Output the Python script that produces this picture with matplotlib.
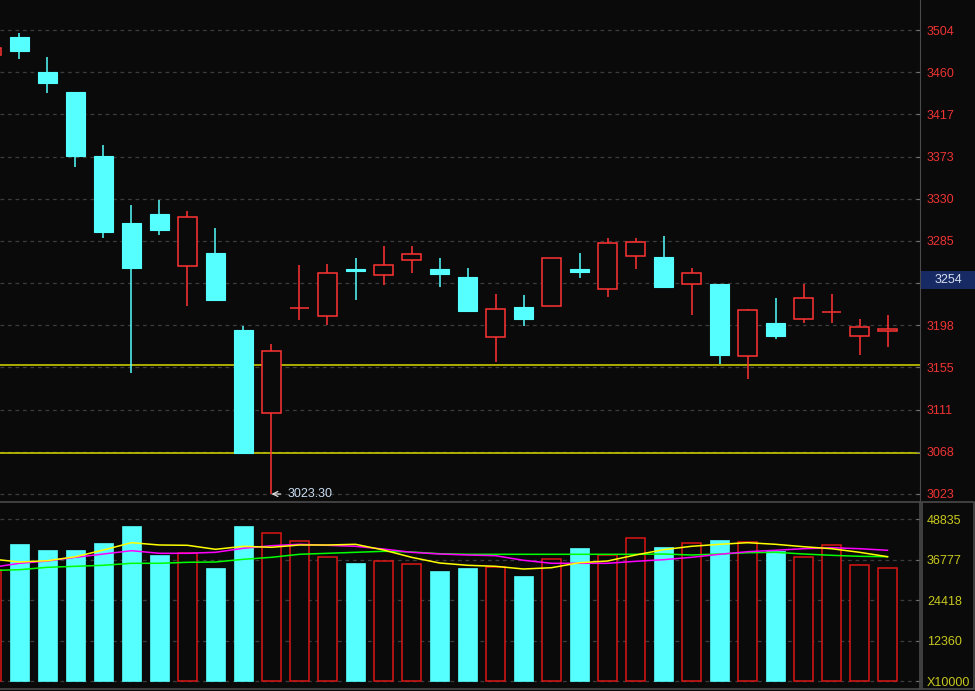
import numpy as np
import matplotlib.pyplot as plt
from matplotlib.patches import Rectangle

plt.rcParams['font.family'] = ['Liberation Sans', 'DejaVu Sans']

# candles, index -1 is the one cut off at the left edge
idx = np.arange(-1, 32)
opens = [3478.1, 3496.8, 3460.5, 3439.8, 3373.5, 3304.1, 3313.4, 3259.8, 3273.0, 3193.2,
         3107.5, 3215.7, 3207.4, 3256.4, 3249.9, 3265.4, 3256.4, 3248.1, 3185.6, 3217.0,
         3217.8, 3256.4, 3235.4, 3269.6, 3268.5, 3240.6, 3240.9, 3166.0, 3200.1, 3204.3,
         3211.5, 3186.7, 3192.5]
closes = [3485.4, 3482.3, 3449.1, 3373.5, 3294.7, 3257.7, 3296.8, 3310.3, 3224.3, 3065.5,
          3171.5, 3215.7, 3251.9, 3254.3, 3260.2, 3271.6, 3251.5, 3213.2, 3214.6, 3204.9,
          3267.5, 3253.6, 3283.0, 3284.1, 3238.1, 3251.9, 3167.6, 3213.6, 3187.3, 3226.0,
          3211.5, 3196.0, 3194.2]
highs = [3485.4, 3500.9, 3476.0, 3440.3, 3384.9, 3322.7, 3327.9, 3316.5, 3298.9, 3197.3,
         3178.7, 3260.5, 3261.6, 3267.8, 3280.2, 3280.2, 3267.8, 3257.4, 3230.5, 3229.5,
         3267.5, 3273.0, 3288.5, 3288.5, 3290.6, 3257.4, 3240.9, 3214.7, 3226.0, 3240.9,
         3230.5, 3204.6, 3208.7]
lows = [3478.1, 3474.0, 3438.7, 3362.1, 3288.5, 3149.0, 3291.6, 3218.4, 3224.3, 3065.5,
        3023.3, 3203.9, 3198.4, 3224.6, 3240.1, 3252.6, 3238.1, 3212.2, 3160.4, 3197.7,
        3217.8, 3247.4, 3227.7, 3256.7, 3237.0, 3209.1, 3157.7, 3142.4, 3184.2, 3200.8,
        3200.8, 3167.6, 3175.9]

volumes = [33557, 41396, 39587, 39587, 41697, 46823, 38079, 38592, 34160, 46823,
           44622, 42210, 37386, 35667, 36180, 35276, 33255, 34160, 34552, 31748,
           36783, 40190, 37989, 43115, 40491, 41607, 42602, 41909, 39376, 37386,
           41094, 34974, 34070]
ma_yellow = [36873, 35969, 36361, 37567, 39587, 41788, 41094, 41004, 39798, 40703,
             40401, 41094, 41094, 41305, 39587, 37386, 35667, 34974, 34673, 33858,
             34250, 35758, 36270, 38079, 39677, 40703, 41306, 41788, 41306, 40582,
             39979, 38894, 37567]
ma_magenta = [34311, 35577, 36270, 37386, 38381, 39376, 38592, 38592, 38894, 40100,
              40883, 41306, 41004, 40703, 39888, 38894, 38381, 38079, 37868, 36482,
              35577, 35577, 35577, 36180, 36662, 37386, 38291, 39074, 39497, 39979,
              40280, 39979, 39497]
ma_green = [33406, 33647, 34371, 34673, 34974, 35577, 35577, 35879, 35969, 36783,
            37386, 38291, 38592, 38894, 39195, 38984, 38471, 38291, 38291, 38291,
            38291, 38291, 38291, 38291, 38381, 38079, 38381, 38773, 38894, 38381,
            37989, 37688, 37567]

price_low, price_high = 3023.3, 3504.0
price_labels = ['3023', '3068', '3111', '3155', '3198', '', '3285', '3330',
                '3373', '3417', '3460', '3504']
support_lines = [3156.9, 3065.8]
cursor_price, cursor_label = 3245.0, '3254'
vol_top = 48835
vol_labels = ['X10000', '12360', '24418', '36777', '48835']

bg = '#0a0a0a'
cyan = '#55ffff'
red = '#ff3333'
vred = '#dd1515'
grid_c = '#3c3c3c'
frame_c = '#4a4a4a'

fig = plt.figure(figsize=(9.75, 6.91), dpi=100, facecolor=bg)
ax = fig.add_axes([0, 189/691, 920/975, 502/691], facecolor=bg)
axv = fig.add_axes([0, 2/691, 920/975, 187/691], facecolor=bg)

o = np.array(opens); c = np.array(closes)
h = np.array(highs); l = np.array(lows)
up = c >= o
w = 0.68

# price grid
ticks = np.linspace(price_low, price_high, 12)
for t in ticks:
    ax.axhline(t, color=grid_c, lw=0.9, ls=(0, (3, 3)), zorder=0)
for s in support_lines:
    ax.axhline(s, color='#d8d800', lw=1.1, zorder=1)

# wicks
ax.vlines(idx[up], l[up], h[up], color=red, lw=1.1, zorder=2)
ax.vlines(idx[~up], l[~up], h[~up], color=cyan, lw=1.1, zorder=2)
# bodies
bot = np.minimum(o, c)
hgt = np.maximum(np.abs(c - o), 0.3)
ax.bar(idx[up], hgt[up], width=w, bottom=bot[up], facecolor=bg, edgecolor=red,
       linewidth=1.1, zorder=3)
ax.bar(idx[~up], hgt[~up], width=w, bottom=bot[~up], facecolor=cyan, edgecolor=cyan,
       linewidth=0.8, zorder=3)

ax.annotate('3023.30', xy=(9, min(lows)), xytext=(16, 0), textcoords='offset pixels',
            ha='left', va='center', color='#c8dcf0', fontsize=9,
            arrowprops=dict(arrowstyle='->', color='#e0e0e0', lw=0.9,
                            shrinkA=3, shrinkB=0))

ax.set_xlim(-0.696, 32.16)
ax.set_ylim(3015.0, 3535.1)
ax.set_xticks([])
ax.set_yticks(ticks)
ax.set_yticklabels(price_labels)
ax.yaxis.tick_right()
ax.tick_params(axis='y', direction='in', length=3, color='#707070',
               labelcolor='#ee3333', labelsize=9, pad=5)
for sp in ['top', 'left', 'bottom']:
    ax.spines[sp].set_visible(False)
ax.spines['right'].set_color(frame_c)

# current price marker
yt = ax.get_yaxis_transform()
ax.add_patch(Rectangle((1.0008, cursor_price - 9.0), 975/920 - 1.0, 18.0, transform=yt,
                       facecolor='#172a63', edgecolor='none', clip_on=False, zorder=5))
ax.text(1.0305, cursor_price, cursor_label, transform=yt, ha='center', va='center',
        color='#d8e0f0', fontsize=9, clip_on=False, zorder=6)

# volume panel
vticks = np.linspace(0, vol_top, 5)
for t in vticks:
    axv.axhline(t, color=grid_c, lw=0.9, ls=(0, (3, 3)), zorder=0)
v = np.array(volumes)
axv.bar(idx[up], v[up], width=w, facecolor=bg, edgecolor=vred, linewidth=1.1, zorder=2)
axv.bar(idx[~up], v[~up], width=w, facecolor=cyan, edgecolor=cyan, linewidth=0.5, zorder=2)
axv.plot(idx, ma_green, color='#00ff00', lw=1.1, zorder=3)
axv.plot(idx, ma_magenta, color='#ff00ff', lw=1.1, zorder=3)
axv.plot(idx, ma_yellow, color='#ffff00', lw=1.1, zorder=3)

axv.set_xlim(-0.696, 32.16)
axv.set_ylim(-2322, 54059)
axv.set_xticks([])
axv.set_yticks(vticks)
axv.set_yticklabels(vol_labels)
axv.yaxis.tick_right()
axv.tick_params(axis='y', direction='in', length=3, color='#707070',
                labelcolor='#c8c820', labelsize=9, pad=5)
axv.spines['left'].set_visible(False)
for sp in ['top', 'bottom', 'right']:
    axv.spines[sp].set_color(frame_c)
    axv.spines[sp].set_linewidth(1.2)

# box around volume scale
fig.add_artist(Rectangle((921.5/975, 2/691), 52.5/975, 187/691, transform=fig.transFigure,
                         facecolor='none', edgecolor=frame_c, lw=1.2))

fig.savefig('out.png', dpi=100, facecolor=bg)
